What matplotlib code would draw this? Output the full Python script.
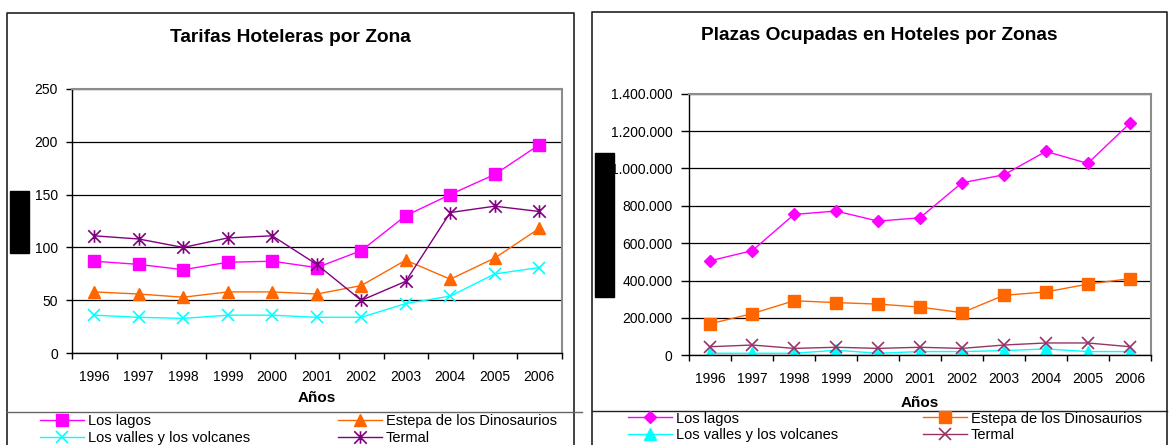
import matplotlib
matplotlib.use("Agg")
import matplotlib.pyplot as plt
from matplotlib.lines import Line2D
from matplotlib.patches import Rectangle
from matplotlib.path import Path
from matplotlib.ticker import FixedLocator, FuncFormatter

plt.rcParams['font.family'] = ['Liberation Sans', 'DejaVu Sans']

W, H = 1169, 445

anios = ['1996', '1997', '1998', '1999', '2000', '2001', '2002', '2003', '2004', '2005', '2006']
zonas = ['Los lagos', 'Estepa de los Dinosaurios', 'Los valles y los volcanes', 'Termal']

# Tarifas hoteleras por zona
tarifa_lagos = [87, 84, 79, 86, 87, 81, 97, 130, 150, 169, 197]
tarifa_estepa = [58, 56, 53, 58, 58, 56, 64, 88, 70, 90, 118]
tarifa_valles = [36, 34, 33, 36, 36, 34, 34, 47, 54, 75, 81]
tarifa_termal = [111, 108, 100, 109, 111, 84, 50, 68, 133, 139, 134]

# Plazas ocupadas en hoteles por zona
plazas_lagos = [506000, 560000, 754000, 772000, 718000, 736000, 923000, 966000, 1091000, 1027000, 1241000]
plazas_estepa = [169000, 223000, 292000, 282000, 274000, 258000, 228000, 321000, 339000, 381000, 410000]
plazas_valles = [11000, 11000, 11000, 27000, 11000, 20000, 20000, 25000, 34000, 20000, 20000]
plazas_termal = [46000, 55000, 37000, 43000, 37000, 43000, 37000, 55000, 66000, 66000, 46000]

MAGENTA = '#FF00FF'
NARANJA = '#FF6600'
CIAN = '#00FFFF'
PURPURA = '#800080'
CIRUELA = '#993366'

# asterisco tipo Excel: una X con una barra vertical
asterisco = Path([(0, -1), (0, 1), (-1, -1), (1, 1), (-1, 1), (1, -1)],
                 [Path.MOVETO, Path.LINETO, Path.MOVETO, Path.LINETO, Path.MOVETO, Path.LINETO])


def caja(x0, y0, x1, y1):
    # pixeles (origen arriba a la izquierda) -> fraccion de la figura
    return [x0 / W, 1 - y1 / H, (x1 - x0) / W, (y1 - y0) / H]


def linea(fig, xs, ys, color, lw=1.0):
    fig.add_artist(Line2D([x / W for x in xs], [1 - y / H for y in ys],
                          transform=fig.transFigure, color=color, lw=lw))


def preparar_ejes(ax, ymax, paso, tick_len, labelpad):
    n = len(anios)
    ax.set_xlim(-0.5, n - 0.5)
    ax.set_ylim(0, ymax)
    ax.set_xticks(range(n))
    ax.set_xticklabels(anios)
    ax.xaxis.set_minor_locator(FixedLocator([i - 0.5 for i in range(n + 1)]))
    ax.tick_params(axis='x', which='major', length=0, pad=12, labelsize=10)
    ax.tick_params(axis='x', which='minor', length=4, width=1, direction='out')
    ax.set_yticks([paso * i for i in range(int(ymax / paso) + 1)])
    ax.tick_params(axis='y', length=tick_len, width=1, direction='out', pad=6, labelsize=10)
    ax.grid(axis='y', color='black', lw=0.9)
    ax.set_axisbelow(True)
    for lado in ['top', 'right']:
        ax.spines[lado].set_color('#8c8c8c')
        ax.spines[lado].set_linewidth(1.5)
    for lado in ['left', 'bottom']:
        ax.spines[lado].set_color('black')
        ax.spines[lado].set_linewidth(1.0)
    ax.set_xlabel('Años', fontsize=11, fontweight='bold', labelpad=labelpad)


fig = plt.figure(figsize=(W / 100, H / 100), dpi=100)

# ---- Grafico izquierdo: tarifas ----
ax1 = fig.add_axes(caja(72, 88.7, 561.5, 353.3))
x = range(len(anios))
l1, = ax1.plot(x, tarifa_lagos, color=MAGENTA, lw=1, marker='s', ms=8, label=zonas[0])
l2, = ax1.plot(x, tarifa_estepa, color=NARANJA, lw=1, marker='^', ms=8, label=zonas[1])
l3, = ax1.plot(x, tarifa_valles, color=CIAN, lw=1, marker='x', ms=8, mew=1.2, label=zonas[2])
l4, = ax1.plot(x, tarifa_termal, color=PURPURA, lw=1, marker=asterisco, ms=9, mew=1.2, label=zonas[3])
preparar_ejes(ax1, 250, 50, 4, 5)

# ---- Grafico derecho: plazas ----
ax2 = fig.add_axes(caja(689.3, 93.7, 1150.7, 355.3))
r1, = ax2.plot(x, plazas_lagos, color=MAGENTA, lw=1, marker='D', ms=6.5, label=zonas[0])
r2, = ax2.plot(x, plazas_estepa, color=NARANJA, lw=1, marker='s', ms=8, label=zonas[1])
r3, = ax2.plot(x, plazas_valles, color=CIAN, lw=1, marker='^', ms=8, label=zonas[2])
r4, = ax2.plot(x, plazas_termal, color=CIRUELA, lw=1, marker='x', ms=8, mew=1.2, label=zonas[3])
preparar_ejes(ax2, 1400000, 200000, 6, 7)
ax2.yaxis.set_major_formatter(FuncFormatter(lambda v, p: f'{int(v):,}'.replace(',', '.')))

# titulos
fig.text(290.8 / W, 1 - 37 / H, 'Tarifas Hoteleras por Zona', ha='center', va='center',
         fontsize=13.8, fontweight='bold')
fig.text(879 / W, 1 - 35 / H, 'Plazas Ocupadas en Hoteles por Zonas', ha='center', va='center',
         fontsize=13.8, fontweight='bold')

# marcos de los graficos
linea(fig, [7.3, 7.3, 574.3, 574.3], [450, 12.7, 12.7, 450], '#222222', 1.2)
linea(fig, [591.7, 591.7, 1166.7, 1166.7], [450, 12, 12, 450], '#222222', 1.2)
linea(fig, [7.3, 582], [412, 412], '#666666', 1.0)
linea(fig, [591.7, 1166.7], [410.7, 410.7], '#222222', 1.0)

# leyendas
leg_kw = dict(ncol=2, frameon=False, fontsize=10.5, handlelength=3.0, handletextpad=0.3,
              labelspacing=0.2, borderpad=0, borderaxespad=0, loc='upper left')
fig.legend([l1, l3, l2, l4], [zonas[0], zonas[2], zonas[1], zonas[3]],
           bbox_to_anchor=(40 / W, 1 - 414 / H), columnspacing=6.0, **leg_kw)
fig.legend([r1, r3, r2, r4], [zonas[0], zonas[2], zonas[1], zonas[3]],
           bbox_to_anchor=(628 / W, 1 - 411.5 / H), columnspacing=5.8, **leg_kw)

# recuadros negros que tapan los titulos del eje y
fig.add_artist(Rectangle((10 / W, 1 - 253 / H), 19 / W, 62 / H, transform=fig.transFigure,
                         color='black'))
fig.add_artist(Rectangle((595 / W, 1 - 297 / H), 19 / W, 144 / H, transform=fig.transFigure,
                         color='black'))

fig.savefig('out.png', dpi=100)
